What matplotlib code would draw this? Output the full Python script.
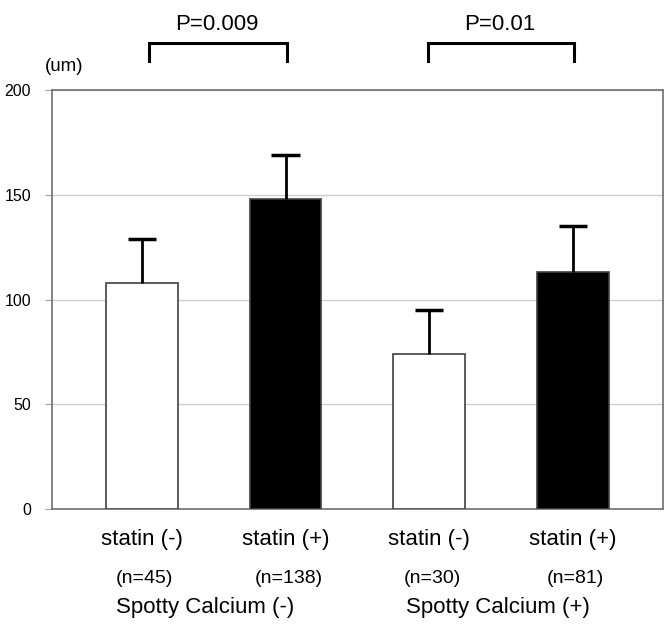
import numpy as np
import matplotlib
matplotlib.use("Agg")
import matplotlib.pyplot as plt

plt.rcParams['font.family'] = ['Liberation Sans', 'DejaVu Sans']

# ------------------------------------------------------------- dane
groups = ["statin (-)", "statin (+)", "statin (-)", "statin (+)"]
n_labels = ["(n=45)", "(n=138)", "(n=30)", "(n=81)"]
means = [108, 148, 74, 113]
errors = [21, 21, 21, 22]
fills = ["white", "black", "white", "black"]
calcium_labels = ["Spotty Calcium (-)", "Spotty Calcium (+)"]
p_values = ["P=0.009", "P=0.01"]
yticks = [0, 50, 100, 150, 200]

x = np.arange(len(means))
tops = np.array(means) + np.array(errors)

fig = plt.figure(figsize=(6.69, 6.34), dpi=100)
ax = fig.add_axes([0.0773, 0.197, 0.9137, 0.661])

ax.bar(x, means, width=0.5, color=fills, edgecolor="#404040", linewidth=1.2, zorder=3)
# tylko górne "wąsy" błędu
ax.vlines(x, means, tops, color="black", linewidth=2, zorder=4)
ax.hlines(tops, x - 0.098, x + 0.098, color="black", linewidth=2.5, zorder=4)

ax.set_xlim(-0.627, 3.627)
ax.set_ylim(0, 200)
ax.set_yticks(yticks)
ax.set_xticks([])
ax.tick_params(axis="y", length=5, color="#a0a0a0", labelsize=11.5, pad=10)
ax.yaxis.grid(True, color="#cccccc", linewidth=1, zorder=0)
for s in ax.spines.values():
    s.set_color("#707070")
    s.set_linewidth(1.2)

# ------------------------------------------------------------- opisy
ax.text(-0.543, 211, "(um)", fontsize=13.5, ha="center", va="center", clip_on=False)

for i in range(len(groups)):
    ax.text(x[i], -14.3, groups[i], fontsize=16, ha="center", va="center", clip_on=False)
    ax.text(x[i] + 0.02, -33, n_labels[i], fontsize=14, ha="center", va="center", clip_on=False)

ax.text(0.44, -46.8, calcium_labels[0], fontsize=16, ha="center", va="center", clip_on=False)
ax.text(2.48, -46.8, calcium_labels[1], fontsize=16, ha="center", va="center", clip_on=False)

# ------------------------------------------------------------- nawiasy P
brackets = [(x[0] + 0.05, x[1] + 0.01), (x[2] - 0.005, x[3] + 0.01)]
for k, (xa, xb) in enumerate(brackets):
    ax.plot([xa, xa, xb, xb], [213.8, 222.3, 222.3, 213.8], color="black",
            linewidth=2.2, clip_on=False, solid_joinstyle="miter")
    ax.text((xa + xb) / 2 - 0.01, 231.5, p_values[k], fontsize=16, ha="center", va="center", clip_on=False)

fig.savefig("out.png", dpi=100)
